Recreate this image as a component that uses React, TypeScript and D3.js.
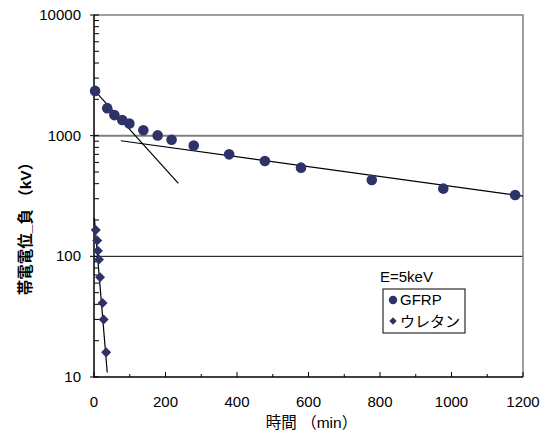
import React, { useRef, useEffect } from 'react';
import * as d3 from 'd3';

// GFRP (circles)
const gfrpTime = [3, 37, 57, 79, 99, 138, 178, 217, 279, 378, 478, 579, 777, 977, 1178];
const gfrpVolt = [2350, 1690, 1480, 1350, 1260, 1110, 1005, 925, 828, 700, 617, 543, 429, 364, 322];

// urethane (diamonds)
const uretTime = [5, 9, 11, 14, 17, 24, 27, 34];
const uretVolt = [165, 135, 111, 94, 67, 41, 30, 16];

// fit lines [t, v]
const fitEarly = [[0, 2400], [236, 403]];
const fitLate = [[75, 908], [1200, 315]];
const fitUret = [[1, 208], [37, 10.9]];

const xTicks = [0, 200, 400, 600, 800, 1000, 1200];
const yTicks = [10, 100, 1000, 10000];

const FONT = '"Liberation Sans", Arial, "Noto Sans CJK JP", sans-serif';
const NAVY = '#2f3268';

export default function App() {
  const svgRef = useRef(null);

  useEffect(() => {
    const svg = d3.select(svgRef.current);
    svg.selectAll('*').remove();

    const width = 550;
    const height = 431;
    const margin = { top: 15, right: 27, bottom: 54, left: 94 };

    const x = d3.scaleLinear().domain([0, 1200]).range([margin.left, width - margin.right]);
    const y = d3.scaleLog().domain([10, 10000]).range([height - margin.bottom, margin.top]);

    const x0 = x(0), x1 = x(1200), y0 = y(10), y1 = y(10000);

    // gridlines
    svg.append('line').attr('x1', x0).attr('x2', x1).attr('y1', y(1000)).attr('y2', y(1000))
      .attr('stroke', '#808080').attr('stroke-width', 2);
    svg.append('line').attr('x1', x0).attr('x2', x1).attr('y1', y(100)).attr('y2', y(100))
      .attr('stroke', '#000').attr('stroke-width', 1);

    // frame top / right
    svg.append('path').attr('d', `M${x0},${y1}H${x1}V${y0}`)
      .attr('fill', 'none').attr('stroke', '#808080').attr('stroke-width', 1.5);

    // y ticks
    const minor = [];
    for (let d = 10; d < 10000; d *= 10) for (let k = 2; k <= 9; k++) minor.push(d * k);
    svg.append('g').selectAll('line').data(minor).join('line')
      .attr('x1', x0).attr('x2', x0 + 5).attr('y1', d => y(d)).attr('y2', d => y(d))
      .attr('stroke', '#000');
    svg.append('g').selectAll('line').data(yTicks).join('line')
      .attr('x1', x0 - 4).attr('x2', x0 + 5).attr('y1', d => y(d)).attr('y2', d => y(d))
      .attr('stroke', '#000');
    svg.append('g').selectAll('text').data(yTicks).join('text')
      .attr('x', 81).attr('y', d => y(d) + 5).attr('text-anchor', 'end')
      .attr('font-family', FONT).attr('font-size', 15).text(d => d);

    // x ticks
    const xMinor = d3.range(100, 1200, 200);
    svg.append('g').selectAll('line').data(xMinor).join('line')
      .attr('x1', d => x(d)).attr('x2', d => x(d)).attr('y1', y0).attr('y2', y0 - 3)
      .attr('stroke', '#000');
    svg.append('g').selectAll('line').data(xTicks).join('line')
      .attr('x1', d => x(d)).attr('x2', d => x(d)).attr('y1', y0).attr('y2', y0 - 5)
      .attr('stroke', '#000');
    svg.append('g').selectAll('text').data(xTicks).join('text')
      .attr('x', d => x(d)).attr('y', 407).attr('text-anchor', 'middle')
      .attr('font-family', FONT).attr('font-size', 15).text(d => d);

    // axes lines
    svg.append('path').attr('d', `M${x0},${y1}V${y0}H${x1}`)
      .attr('fill', 'none').attr('stroke', '#000').attr('stroke-width', 1.5);

    // axis titles
    svg.append('text').attr('x', (x0 + x1) / 2 + 3).attr('y', 428).attr('text-anchor', 'middle')
      .attr('font-family', FONT).attr('font-size', 15.5).text('時間 （min）');
    svg.append('text').attr('transform', 'translate(31,225) rotate(-90)').attr('text-anchor', 'middle')
      .attr('font-family', FONT).attr('font-size', 15.5).attr('font-weight', 'bold')
      .text('帯電電位_負 （kV）');

    // fit lines
    const line = d3.line().x(d => x(d[0])).y(d => y(d[1]));
    [fitEarly, fitLate, fitUret].forEach(f => {
      svg.append('path').attr('d', line(f)).attr('fill', 'none')
        .attr('stroke', '#000').attr('stroke-width', 1.2);
    });

    // markers
    svg.append('g').selectAll('circle').data(gfrpTime).join('circle')
      .attr('cx', d => x(d)).attr('cy', (d, i) => y(gfrpVolt[i])).attr('r', 5.3)
      .attr('fill', NAVY);
    const diamond = d3.symbol().type(d3.symbolDiamond2).size(64);
    svg.append('g').selectAll('path').data(uretTime).join('path')
      .attr('transform', (d, i) => `translate(${x(d)},${y(uretVolt[i])})`)
      .attr('d', diamond).attr('fill', NAVY);

    // legend
    svg.append('text').attr('x', 380).attr('y', 282).attr('font-family', FONT)
      .attr('font-size', 15).text('E=5keV');
    svg.append('rect').attr('x', 383).attr('y', 289).attr('width', 82).attr('height', 44)
      .attr('fill', '#fff').attr('stroke', '#000').attr('stroke-width', 1);
    svg.append('circle').attr('cx', 393).attr('cy', 300).attr('r', 4.2).attr('fill', NAVY);
    svg.append('path').attr('transform', 'translate(393,321)')
      .attr('d', d3.symbol().type(d3.symbolDiamond2).size(34)).attr('fill', NAVY);
    svg.append('text').attr('x', 400).attr('y', 305).attr('font-family', FONT)
      .attr('font-size', 15).text('GFRP');
    svg.append('text').attr('x', 400).attr('y', 327).attr('font-family', FONT)
      .attr('font-size', 15).text('ウレタン');
  }, []);

  return (
    <svg ref={svgRef} width={550} height={431}
      style={{ position: 'absolute', left: 0, top: 0, background: '#fff' }} />
  );
}
